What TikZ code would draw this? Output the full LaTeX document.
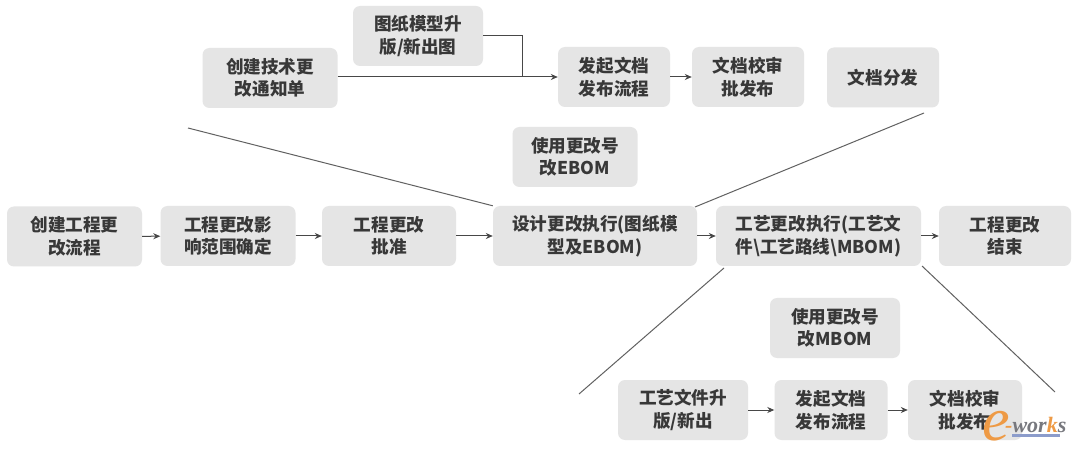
\documentclass[tikz,border=0pt]{standalone}
\usepackage{fontspec}
\setmainfont{Noto Sans CJK SC}
\newfontfamily\wmfont{Liberation Serif}
\usetikzlibrary{arrows.meta}
\definecolor{boxfill}{HTML}{E5E5E5}
\definecolor{wmorange}{HTML}{EE9A45}
\definecolor{wmgray}{HTML}{77787E}
\definecolor{wmblue}{HTML}{8C9CCB}
\tikzset{
 bx/.style={fill=boxfill,rounded corners=7pt,align=center,font=\bfseries\fontsize{17.6}{22.5}\selectfont,text=black!78,inner sep=0pt,minimum height=60,execute at begin node={\vspace*{3.5pt}}},
 ar/.style={draw=black!72,line width=1pt,-{Stealth[length=7pt,width=6pt]}},
 ln/.style={draw=black!62,line width=1pt},
 pl/.style={draw=black!72,line width=1pt}
}
\begin{document}
\begin{tikzpicture}[x=1pt,y=-1pt]
\useasboundingbox (0,0) rectangle (1077,449);
\fill[white] (0,0) rectangle (1077,449);
\node[bx,minimum width=135] (a1) at (74.5,236.5) {创建工程更\\改流程};
\node[bx,minimum width=135] (a2) at (228,236) {工程更改影\\响范围确定};
\node[bx,minimum width=134] (a3) at (389,236) {工程更改\\批准};
\node[bx,minimum width=204] (a4) at (595,236) {设计更改执行(图纸模\\型及EBOM)};
\node[bx,minimum width=205] (a5) at (818.5,236) {工艺更改执行(工艺文\\件\textbackslash 工艺路线\textbackslash MBOM)};
\node[bx,minimum width=132] (a6) at (1005,236) {工程更改\\结束};
\node[bx,minimum width=135] (t1) at (270,78) {创建技术更\\改通知单};
\node[bx,minimum width=130] (t2) at (418,36) {图纸模型升\\版/新出图};
\node[bx,minimum width=112] (t3) at (614,77) {发起文档\\发布流程};
\node[bx,minimum width=112] (t4) at (748,77) {文档校审\\批发布};
\node[bx,minimum width=112] (t5) at (883,77.5) {文档分发};
\node[bx,minimum width=125] (e1) at (575,157) {使用更改号\\改EBOM};
\node[bx,minimum width=130] (m0) at (835,328) {使用更改号\\改MBOM};
\node[bx,minimum width=130] (m1) at (683,410) {工艺文件升\\版/新出};
\node[bx,minimum width=113] (m2) at (831,410) {发起文档\\发布流程};
\node[bx,minimum width=114] (m3) at (965,410) {文档校审\\批发布};
\draw[ar] (a1)--(a2);
\draw[ar] (a2)--(a3);
\draw[ar] (a3)--(a4);
\draw[ar] (a4)--(a5);
\draw[ar] (a5)--(a6);
\draw[ar] (t1.east|-t3)--(t3);
\draw[ar] (t3)--(t4);
\coordinate (j) at (522,77);
\draw[pl] (t2.east)-|(j);
\draw[ar] (m1)--(m2);
\draw[ar] (m2)--(m3);
\coordinate (c1) at (188,128);
\coordinate (c2) at (924,113);
\coordinate (c3) at (579,394);
\coordinate (c4) at (1055,392);
\draw[ln] (c1)--(a4.north west);
\draw[ln] (c2)--(695,207);
\draw[ln] (c3)--(724,268);
\draw[ln] (c4)--(922,266);
\fill[wmblue] (1012,433.5) rectangle (1060,436.5);
\node[anchor=base,inner sep=0pt,text=wmorange,font=\wmfont\itshape\fontsize{62}{62}\selectfont] (we) at (996,440) {e};
\node[anchor=base west,inner sep=0pt,font=\wmfont\bfseries\itshape\fontsize{22}{22}\selectfont] (wt) at (1005,432) {\textcolor{wmorange}{-}\textcolor{wmgray}{wor}\textcolor{wmorange}{k}\textcolor{wmgray}{s}};
\end{tikzpicture}
\end{document}
